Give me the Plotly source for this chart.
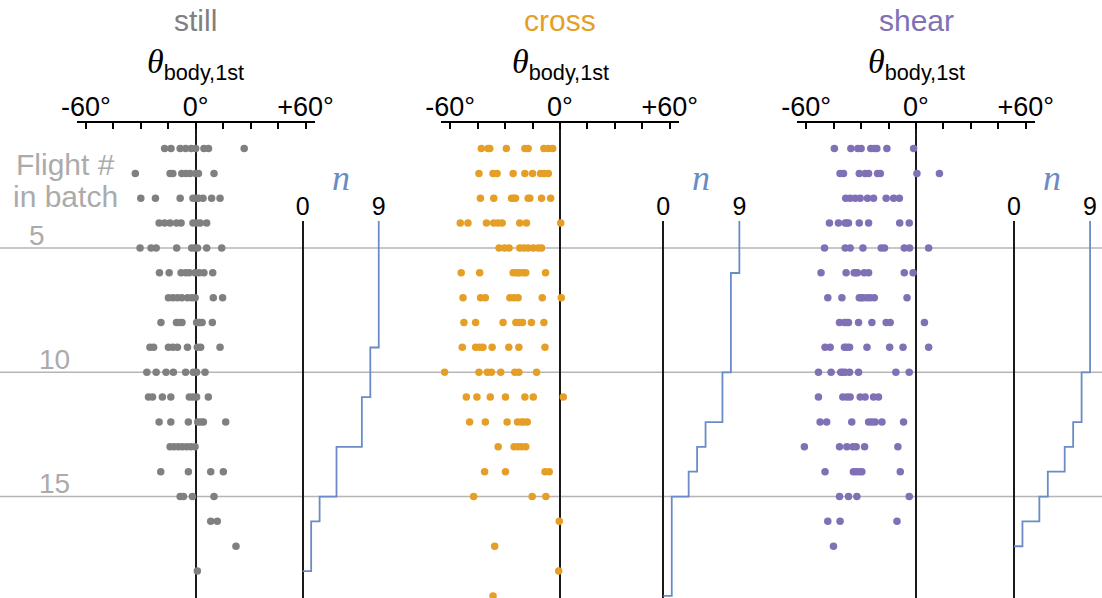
import plotly.graph_objects as go

# Body angle of the first flight, one list per flight number in the batch (degrees)
still_theta = [
    [-17, -13.5, -8.5, -5.5, -2.5, 0, 4.5, 7, 26.5],
    [-33, -14, -12.5, -7.6, -5.3, -3, 0, 1.5, 10],
    [-30, -22, -8.5, -1.5, 0, 1.5, 4, 8.7, 13.3],
    [-20, -17, -14, -10.5, -8, -1.5, 0.5, 2.5, 6],
    [-30.4, -24.4, -21.6, -10.4, -2.2, -0.5, 1, 6, 14.2],
    [-19.8, -14.5, -8, -5.5, -3.5, -0.4, 2, 4.5, 9.3],
    [-14.9, -12.5, -10, -7.6, -4.5, -2.2, -0.3, 9.6, 14.7],
    [-19, -10.5, -9, -7.5, 0.5, 1.5, 2.5, 3.5, 9.1],
    [-25, -23, -14.9, -12.5, -10, -4.5, 0.9, 2.7, 13.3],
    [-26.7, -21.6, -16.2, -12.2, -5.5, -1.3, 0.5, 5.1],
    [-25.8, -23.6, -18.2, -13.6, -3.5, -1.6, 0.5, 6.9],
    [-20, -13.6, -4, 1.1, 2.9, 4.2, 16.4],
    [-14, -11.8, -9.5, -7.3, -4.9, -2.7, -0.4],
    [-19.1, -4, 8.2, 15.1],
    [-8.5, -6.7, -1.8, 10],
    [8.2, 11.8],
    [22],
    [0.9],
]

cross_theta = [
    [-43, -39.3, -38.4, -29.3, -19.2, -17.4, -8.8, -6.4, -4.0],
    [-44.3, -36.6, -34.4, -25.6, -19.2, -15, -10.6, -8.6, -6.4],
    [-43.5, -36.2, -26.5, -25.4, -24.3, -17.4, -16.5, -10.1, -5.1],
    [-54.5, -50.3, -40.2, -36.2, -33.8, -31.6, -22, -18.3, 0.4],
    [-33.3, -30.2, -27.8, -22, -19.8, -17.4, -14.6, -11.9, -10.1],
    [-54, -43.9, -25.6, -23.8, -22.9, -22, -20.1, -18.7, -7.9],
    [-53, -43.4, -40.8, -27.4, -25.1, -22.9, -9.7, 0.7],
    [-52.5, -46.1, -31.1, -24.1, -22.3, -20.5, -15.6, -8.8],
    [-53.4, -46.1, -43.9, -42.1, -37.1, -28, -22.5, -8.2],
    [-63.1, -44.3, -39.7, -37.5, -32.4, -24.7, -22.5, -12.8],
    [-51.2, -45.4, -38.1, -29.8, -19.2, -14.6, 1.8],
    [-49.4, -40.8, -28.9, -23.2, -21, -19.8, -17.9],
    [-33.8, -25.1, -22.9, -21, -18.7],
    [-41.2, -29.8, -8.2, -5.9],
    [-47.2, -15.2, -7.7],
    [-0.4],
    [-35.7],
    [-0.7],
    [-36.6],
]

shear_theta = [
    [-44.6, -35.6, -31.8, -30, -24.7, -22.8, -21.4, -15.9, -1.3],
    [-41.5, -39.6, -31, -27.8, -25.9, -21, -19.5, 0.5, 12.8],
    [-38.4, -36, -33.2, -30.5, -26.5, -23.2, -16.3, -12.2, -9.1],
    [-47.3, -42.4, -38.7, -37.8, -36.9, -31, -25.9, -8.9, -3.7],
    [-50, -38.7, -36, -29, -19, -17.2, -6.4, -3.5, 6.9],
    [-51.9, -38.2, -33.8, -32.9, -32, -28.3, -25.9, -6.4, -1.6],
    [-48.2, -40.5, -31, -30, -29, -26.8, -25, -22.8, -4.9],
    [-41.8, -39.1, -38, -36.9, -31.4, -24.1, -16.3, -14.1, 4.6],
    [-49.7, -46.9, -39.1, -37.8, -36.3, -26.8, -14.4, -7.1, 6.9],
    [-53.3, -46.4, -41.1, -40, -38.7, -36.3, -31.4, -11, -3.7],
    [-53.3, -40, -37.8, -36, -30.5, -27.8, -23.2, -20.5],
    [-52.4, -48.8, -35.1, -25.9, -24.1, -22.3, -18.6, -6.8],
    [-61, -41.8, -37.8, -34.5, -32.7, -28.1, -9.9],
    [-49.7, -34.2, -32.7, -31, -29.6, -8.6],
    [-41.8, -36.9, -32.3, -3.7],
    [-48.2, -41.5, -10.4],
    [-45.1],
]

conditions = ["still", "cross", "shear"]
condition_colors = ["#808080", "#E59F26", "#8070B6"]
theta_ticks = [-60, -45, -30, -15, 0, 15, 30, 45, 60]
theta_ticktext = ["-60°", "", "", "", "0°", "", "", "", "+60°"]
n_ticks = [0, 9]
n_ticktext = ["0", "9"]
grid_rows = [5, 10, 15]
grid_labels = ["5", "10", "15"]

W, H = 1102, 598
SANS = "Liberation Sans, Arial, Helvetica, sans-serif"
SERIF = "Liberation Serif, Times New Roman, serif"
STEP_BLUE = "#6A8CC6"
LABEL_GRAY = "#ABABAB"


def px(x):
    return x / W


def py(y):
    return 1 - y / H


panels = [still_theta, cross_theta, shear_theta]
theta_centers = [195.7, 560.0, 916.0]   # pixel position of 0 deg
n_zero = [302.7, 663.3, 1014.0]         # pixel position of n = 0
deg_px = 1.83
n_px = 8.45

fig = go.Figure()

for i, rows in enumerate(panels):
    xs, ys = [], []
    for r, vals in enumerate(rows, start=1):
        xs += vals
        ys += [r] * len(vals)
    xa = "x" if i == 0 else f"x{i + 1}"
    fig.add_trace(go.Scatter(
        x=xs, y=ys, mode="markers", xaxis=xa, yaxis="y",
        marker=dict(size=7.5, color=condition_colors[i], line=dict(width=0)),
        hoverinfo="x+y",
    ))

    # number of batches that reached each flight number
    counts = [len(v) for v in rows]
    flight = list(range(1, len(rows) + 1))
    fig.add_trace(go.Scatter(
        x=counts + [0], y=flight + [flight[-1]], mode="lines",
        xaxis=f"x{i + 4}", yaxis="y2",
        line=dict(shape="hv", color=STEP_BLUE, width=1.8),
        hoverinfo="skip",
    ))

layout = dict(
    width=W, height=H,
    margin=dict(l=0, r=0, t=0, b=0, pad=0, autoexpand=False),
    plot_bgcolor="rgba(0,0,0,0)", paper_bgcolor="white", showlegend=False,
    font=dict(family=SANS, color="black"),
    yaxis=dict(domain=[0, py(122.7)], range=[19.084, -0.039], visible=False,
               automargin=False),
    yaxis2=dict(domain=[0, py(221)], range=[19.084, 3.907], visible=False,
                automargin=False),
)

for i in range(3):
    c = theta_centers[i]
    key = "xaxis" if i == 0 else f"xaxis{i + 1}"
    layout[key] = dict(
        domain=[px(c - 65 * deg_px), px(c + 65 * deg_px)], range=[-65, 65],
        side="top", anchor="y", showline=True, linecolor="black", linewidth=1.8,
        ticks="inside", ticklen=6, tickwidth=1.5, tickcolor="black",
        tickvals=theta_ticks, ticktext=theta_ticktext, ticklabelstandoff=-6,
        tickfont=dict(size=27, color="black", family=SANS),
        zeroline=True, zerolinecolor="#1a1a1a", zerolinewidth=2,
        showgrid=False, fixedrange=True, automargin=False,
    )
    z = n_zero[i]
    layout[f"xaxis{i + 4}"] = dict(
        domain=[px(z - 0.5 * n_px), px(z + 9.5 * n_px)], range=[-0.5, 9.5],
        side="top", anchor="y2", showline=False, ticks="",
        tickvals=n_ticks, ticktext=n_ticktext,
        tickfont=dict(size=25, color="black", family=SANS),
        zeroline=True, zerolinecolor="#1a1a1a", zerolinewidth=1.6,
        showgrid=False, fixedrange=True, automargin=False,
    )

fig.update_layout(**layout)

# horizontal reference lines across the whole figure
for r in grid_rows:
    fig.add_shape(type="line", xref="paper", yref="y", x0=0, x1=1, y0=r, y1=r,
                  line=dict(color="#B5B5B5", width=1.6), layer="below")

ann = []
for i, name in enumerate(conditions):
    c = theta_centers[i]
    ann.append(dict(text=name, x=px(c), y=py(21), xref="paper", yref="paper",
                    showarrow=False, xanchor="center", yanchor="middle",
                    font=dict(size=30, color=condition_colors[i], family=SANS)))
    ann.append(dict(text=f'<span style="font-family:{SERIF};font-size:34px"><i>θ</i></span>'
                         '<sub>body,1st</sub>',
                    x=px(c), y=py(64), xref="paper", yref="paper",
                    showarrow=False, xanchor="center", yanchor="middle",
                    font=dict(size=31, color="black", family=SANS)))
    ann.append(dict(text="<i>n</i>", x=4.5, y=py(178), xref=f"x{i + 4}", yref="paper",
                    showarrow=False, xanchor="center", yanchor="middle",
                    font=dict(size=36, color=STEP_BLUE, family=SERIF)))

ann.append(dict(text="Flight #", x=px(65), y=py(165), xref="paper", yref="paper",
                showarrow=False, xanchor="center", yanchor="middle",
                font=dict(size=30, color=LABEL_GRAY, family=SANS)))
ann.append(dict(text="in batch", x=px(65), y=py(196), xref="paper", yref="paper",
                showarrow=False, xanchor="center", yanchor="middle",
                font=dict(size=30, color=LABEL_GRAY, family=SANS)))

for r, lab, xc in zip(grid_rows, grid_labels, [37, 55, 55]):
    ann.append(dict(text=lab, x=px(xc), y=r, xref="paper", yref="y",
                    showarrow=False, xanchor="center", yanchor="bottom", yshift=-5,
                    font=dict(size=28, color=LABEL_GRAY, family=SANS)))

fig.update_layout(annotations=ann)

fig.write_html("out.html")
